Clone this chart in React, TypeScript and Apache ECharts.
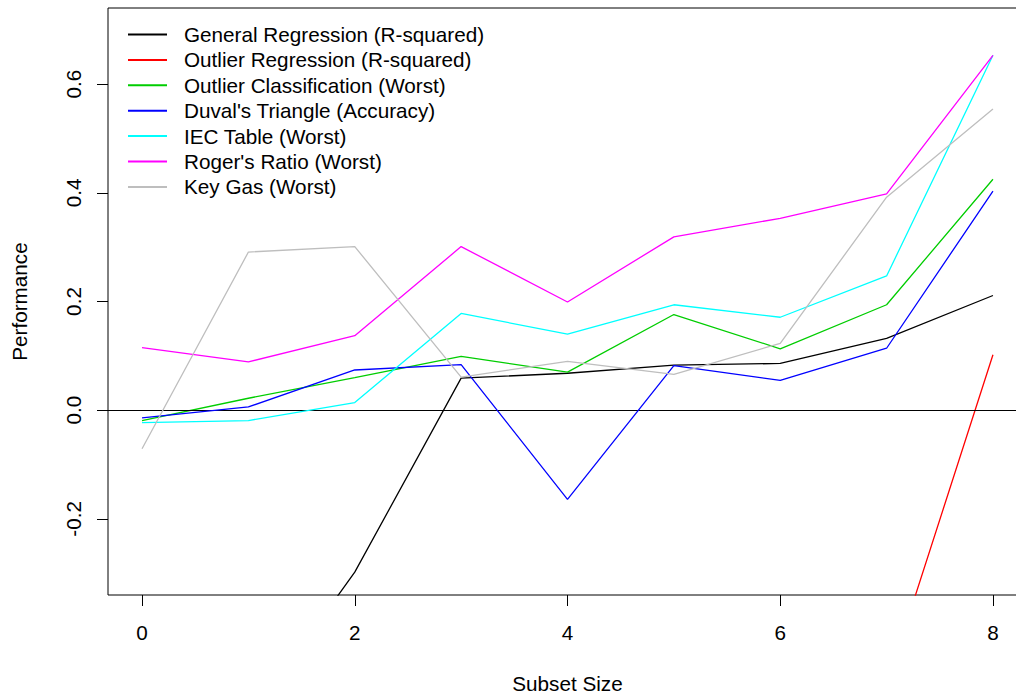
import React, { useEffect, useRef } from "react";
import * as echarts from "echarts";

const subsetSizes = [0, 1, 2, 3, 4, 5, 6, 7, 8];
const xTicks = [0, 2, 4, 6, 8];
const yTicks = [-0.2, 0.0, 0.2, 0.4, 0.6];

const seriesNames = [
  "General Regression (R-squared)",
  "Outlier Regression (R-squared)",
  "Outlier Classification (Worst)",
  "Duval's Triangle (Accuracy)",
  "IEC Table (Worst)",
  "Roger's Ratio (Worst)",
  "Key Gas (Worst)",
];
const seriesColors = ["#000000", "#FF0000", "#00CD00", "#0000FF", "#00FFFF", "#FF00FF", "#BEBEBE"];

const generalRegression = [-0.8, -0.57, -0.298, 0.059, 0.068, 0.083, 0.086, 0.132, 0.211];
const outlierRegression = [-2.5, -2.2, -1.9, -1.6, -1.3, -1.0, -0.8, -0.505, 0.102];
const outlierClassification = [-0.019, 0.022, 0.06, 0.099, 0.07, 0.176, 0.113, 0.194, 0.425];
const duvalsTriangle = [-0.014, 0.006, 0.074, 0.084, -0.164, 0.082, 0.055, 0.114, 0.403];
const iecTable = [-0.023, -0.019, 0.014, 0.178, 0.14, 0.194, 0.171, 0.247, 0.653];
const rogersRatio = [0.115, 0.089, 0.137, 0.301, 0.199, 0.319, 0.353, 0.398, 0.653];
const keyGas = [-0.071, 0.291, 0.301, 0.061, 0.09, 0.066, 0.123, 0.392, 0.554];

const allValues = [
  generalRegression,
  outlierRegression,
  outlierClassification,
  duvalsTriangle,
  iecTable,
  rogersRatio,
  keyGas,
];

const FONT = "'Liberation Sans', Arial, sans-serif";
const FS = 20.7;

export default function App() {
  const ref = useRef<HTMLDivElement>(null);
  useEffect(() => {
    const chart = echarts.init(ref.current as HTMLDivElement, null, { renderer: "svg" });
    const series: any[] = allValues.map((vals, i) => ({
      name: seriesNames[i],
      type: "line",
      symbol: "none",
      clip: true,
      color: seriesColors[i],
      lineStyle: { color: seriesColors[i], width: 1.3 },
      data: subsetSizes.map((x, j) => [x, vals[j]]),
      z: 2 + i,
    }));
    series[0].markLine = {
      silent: true,
      symbol: ["none", "none"],
      label: { show: false },
      lineStyle: { color: "#000", type: "solid", width: 1 },
      data: [{ yAxis: 0 }],
    };
    chart.setOption({
      animation: false,
      backgroundColor: "#ffffff",
      textStyle: { fontFamily: FONT, color: "#000" },
      grid: {
        left: 108,
        top: 8,
        width: 919,
        height: 587,
        show: true,
        borderColor: "#000",
        borderWidth: 1,
        backgroundColor: "transparent",
        containLabel: false,
        outerBoundsMode: "none",
      },
      legend: {
        orient: "vertical",
        left: 127,
        top: 24,
        padding: 0,
        itemWidth: 39,
        itemHeight: 14,
        itemGap: 4.4,
        selectedMode: false,
        lineStyle: { width: 2 },
        itemStyle: { color: "transparent", borderWidth: 0, opacity: 0 },
        textStyle: {
          fontFamily: FONT,
          fontSize: FS,
          lineHeight: 20,
          color: "#000",
          padding: [0, 0, 0, 12],
        },
        data: seriesNames,
      },
      xAxis: {
        type: "value",
        min: -0.32,
        max: 8.32,
        name: "Subset Size",
        nameLocation: "middle",
        nameGap: 78,
        nameTextStyle: { fontFamily: FONT, fontSize: FS, color: "#000" },
        axisLine: { show: false, onZero: false },
        splitLine: { show: false },
        axisTick: {
          show: true,
          inside: false,
          length: 11,
          lineStyle: { color: "#000", width: 1 },
          customValues: xTicks,
        },
        axisLabel: {
          fontFamily: FONT,
          fontSize: FS,
          color: "#000",
          margin: 27,
          customValues: xTicks,
          formatter: (v: number) => String(v),
        },
      },
      yAxis: {
        type: "value",
        min: -0.34,
        max: 0.74,
        name: "Performance",
        nameLocation: "middle",
        nameGap: 78,
        nameTextStyle: { fontFamily: FONT, fontSize: FS, color: "#000" },
        axisLine: { show: false, onZero: false },
        splitLine: { show: false },
        axisTick: {
          show: true,
          inside: false,
          length: 11,
          lineStyle: { color: "#000", width: 1 },
          customValues: yTicks,
        },
        axisLabel: {
          fontFamily: FONT,
          fontSize: FS,
          color: "#000",
          margin: 24,
          rotate: 90,
          customValues: yTicks,
          formatter: (v: number) => v.toFixed(1),
        },
      },
      series,
    });
    return () => chart.dispose();
  }, []);
  return (
    <div
      style={{
        position: "fixed",
        left: 0,
        top: 0,
        width: 1016,
        height: 696,
        overflow: "hidden",
        background: "#fff",
      }}
    >
      <div ref={ref} style={{ width: 1040, height: 696 }} />
    </div>
  );
}
